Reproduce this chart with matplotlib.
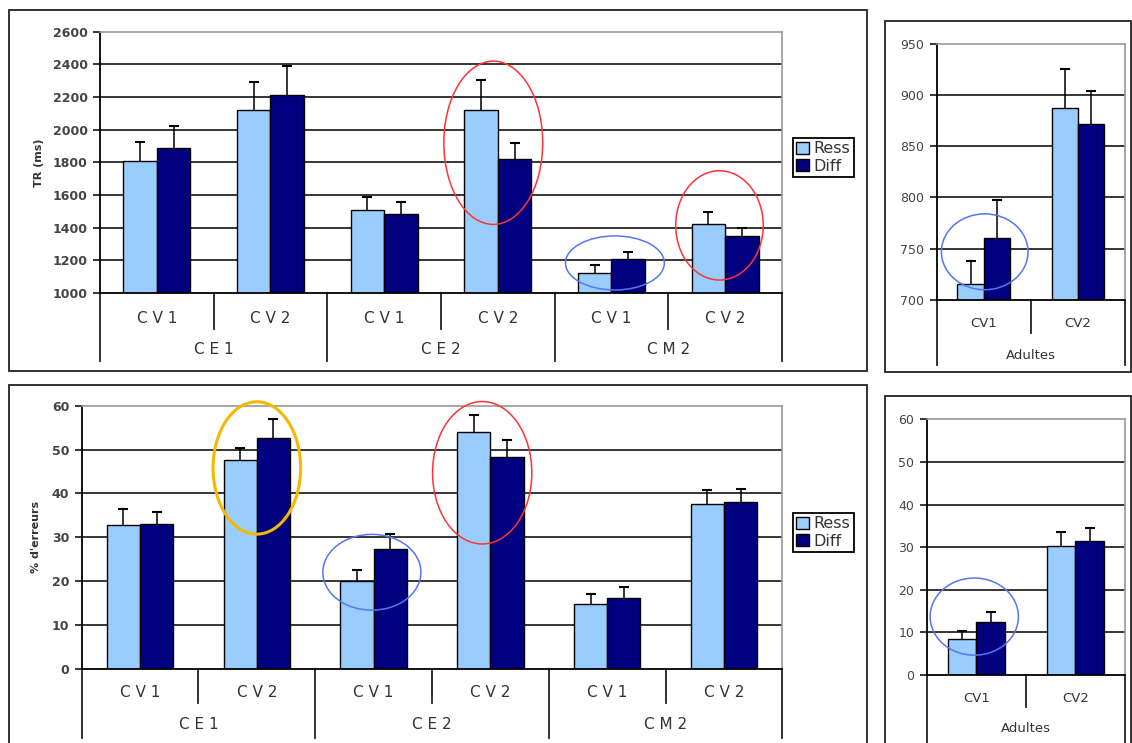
import numpy as np
import matplotlib
matplotlib.use("Agg")
import matplotlib.pyplot as plt
from matplotlib.patches import Rectangle, Ellipse

# Data
groups = ["C E 1", "C E 2", "C M 2"]
conds = ["C V 1", "C V 2"]
conds_adult = ["CV1", "CV2"]

tr_ress = [1810, 2118, 1508, 2118, 1124, 1424]
tr_ress_err = [115, 176, 82, 184, 49, 72]
tr_diff = [1890, 2212, 1484, 1818, 1208, 1347]
tr_diff_err = [134, 180, 71, 102, 45, 49]

tr_ad_ress = [716, 887]
tr_ad_ress_err = [22, 38]
tr_ad_diff = [760, 872]
tr_ad_diff_err = [38, 32]

er_ress = [32.8, 47.5, 19.9, 53.9, 14.8, 37.6]
er_ress_err = [3.6, 2.8, 2.7, 4.0, 2.2, 3.1]
er_diff = [33.0, 52.7, 27.2, 48.4, 16.1, 38.0]
er_diff_err = [2.8, 4.2, 3.5, 3.8, 2.6, 3.1]

er_ad_ress = [8.5, 30.3]
er_ad_ress_err = [1.8, 3.2]
er_ad_diff = [12.4, 31.4]
er_ad_diff_err = [2.3, 3.0]

# hand-drawn circles: (x center, y center, width, height, colour)
circ_tr = [(2.96, 1920, 0.87, 1000, "#ff3333"), (4.95, 1414, 0.77, 669, "#ff3333"),
           (4.03, 1184, 0.87, 331, "#5577ee")]
circ_tr_ad = [(0.01, 747, 0.92, 74, "#5577ee")]
circ_er = [(1.0, 45.8, 0.75, 30.2, "#f5b800"), (1.985, 22.0, 0.84, 17.3, "#5577ee"),
           (2.93, 44.7, 0.85, 32.5, "#ff3333")]
circ_er_ad = [(-0.02, 13.7, 0.89, 18.1, "#5577ee")]

c_ress = "#99ccff"
c_diff = "#000080"
W, H = 1132, 743

fig = plt.figure(figsize=(W / 100, H / 100), dpi=100)


def px_axes(l, t, r, b):
    return fig.add_axes([l / W, 1 - b / H, (r - l) / W, (b - t) / H])


def frame(l, t, r, b):
    fig.add_artist(Rectangle((l / W, 1 - b / H), (r - l) / W, (b - t) / H,
                             transform=fig.transFigure, fill=False,
                             edgecolor="#222222", lw=1.3))


def panel(ax, ress, ress_err, diff, diff_err, width, ylim, step, subs, grps,
          sub_y, grp_y, sep_short, sep_long, tick_bold, sub_fs, circles, lw_ell):
    x = np.arange(len(ress))
    for yv in np.arange(ylim[0] + step, ylim[1], step):
        ax.axhline(yv, color="black", lw=1.1, zorder=1)
    ekw = dict(ecolor="black", elinewidth=1.1, capsize=3.5, capthick=1.5)
    b1 = ax.bar(x - width / 2, ress, width, color=c_ress, edgecolor="black", lw=1.0, zorder=2,
                yerr=[np.zeros(len(ress)), ress_err], error_kw=ekw)
    b2 = ax.bar(x + width / 2, diff, width, color=c_diff, edgecolor="black", lw=1.0, zorder=2,
                yerr=[np.zeros(len(diff)), diff_err], error_kw=ekw)
    # only the upper cap is shown
    for b in [b1, b2]:
        b.errorbar.lines[1][0].set_visible(False)
    ax.set_xlim(-0.5, len(ress) - 0.5)
    ax.set_ylim(*ylim)
    ax.set_yticks(np.arange(ylim[0], ylim[1] + step / 2, step))
    ax.set_xticks([])
    for lab in ax.get_yticklabels():
        lab.set_fontweight("bold" if tick_bold else "normal")
    ax.tick_params(axis="y", length=5, width=1.1, labelsize=9, labelcolor="#444444", pad=4)
    for s in ["top", "right"]:
        ax.spines[s].set_color("#999999")
        ax.spines[s].set_linewidth(1.2)
    for s in ["left", "bottom"]:
        ax.spines[s].set_color("black")
        ax.spines[s].set_linewidth(1.3)
    tr = ax.get_xaxis_transform()
    # category labels and separators under the axis
    for i in range(len(ress)):
        ax.text(i, sub_y, subs[i % 2], transform=tr, ha="center", va="center",
                fontsize=sub_fs, color="#333333")
    for i in range(1, len(ress)):
        bottom = sep_long if i % 2 == 0 else sep_short
        ax.plot([i - 0.5, i - 0.5], [0, bottom], transform=tr, color="#222222",
                lw=1.3, clip_on=False)
    ax.plot([-0.5, -0.5], [0, sep_long], transform=tr, color="#222222", lw=1.3, clip_on=False)
    ax.plot([len(ress) - 0.5] * 2, [0, sep_long], transform=tr, color="#222222", lw=1.3,
            clip_on=False)
    for g, name in enumerate(grps):
        ax.text(2 * g + 0.5, grp_y, name, transform=tr, ha="center", va="center",
                fontsize=sub_fs, color="#333333")
    for cx, cy, w, h, col in circles:
        ax.add_patch(Ellipse((cx, cy), w, h, fill=False, edgecolor=col, lw=lw_ell,
                             zorder=5, clip_on=False))


frame(9, 10, 867, 371)
frame(885, 21, 1131, 372)
frame(9, 385, 867, 770)
frame(885, 396, 1131, 770)

ax1 = px_axes(100, 31.7, 782, 293)
panel(ax1, tr_ress, tr_ress_err, tr_diff, tr_diff_err, 0.296, (1000, 2600), 200,
      conds, groups, -0.096, -0.218, -0.138, -0.26, True, 11, circ_tr, 1.1)
ax1.set_ylabel("TR (ms)", fontsize=8, fontweight="bold", color="#333333", labelpad=6)

ax2 = px_axes(936.7, 43.7, 1125, 300)
panel(ax2, tr_ad_ress, tr_ad_ress_err, tr_ad_diff, tr_ad_diff_err, 0.28, (700, 950), 50,
      conds_adult, ["Adultes"], -0.09, -0.215, -0.13, -0.254, False, 9.5, circ_tr_ad, 1.1)

ax3 = px_axes(81.7, 405.7, 782.3, 668.7)
panel(ax3, er_ress, er_ress_err, er_diff, er_diff_err, 0.285, (0, 60), 10,
      conds, groups, -0.089, -0.214, -0.132, -0.265, True, 11, circ_er, 1.1)
ax3.set_ylabel("% d'erreurs", fontsize=8, fontweight="bold", color="#333333", labelpad=8)
ax3.patches[-3].set_linewidth(2.2)

ax4 = px_axes(926.7, 419.3, 1125, 675)
panel(ax4, er_ad_ress, er_ad_ress_err, er_ad_diff, er_ad_diff_err, 0.29, (0, 60), 10,
      conds_adult, ["Adultes"], -0.09, -0.21, -0.124, -0.3, False, 9.5, circ_er_ad, 1.1)

# legends
handles = [Rectangle((0, 0), 1, 1, facecolor=c_ress, edgecolor="black", lw=1),
           Rectangle((0, 0), 1, 1, facecolor=c_diff, edgecolor="black", lw=1)]
for top in [138, 513]:
    leg = fig.legend(handles, ["Ress", "Diff"], loc="upper left",
                     bbox_to_anchor=(793 / W, 1 - top / H), borderaxespad=0,
                     fontsize=11.5, handlelength=0.8, handleheight=0.8, handletextpad=0.3,
                     borderpad=0.2, labelspacing=0.15, fancybox=False, framealpha=1)
    leg.get_frame().set_edgecolor("black")
    leg.get_frame().set_linewidth(1.3)
    for t in leg.get_texts():
        t.set_color("#333333")

fig.savefig("out.png", dpi=100)
